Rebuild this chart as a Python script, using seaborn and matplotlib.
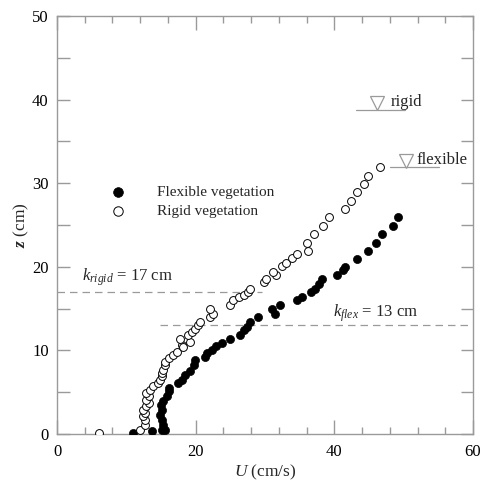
import matplotlib
matplotlib.use("Agg")
import matplotlib.pyplot as plt
import seaborn as sns
import pandas as pd
from matplotlib.ticker import MultipleLocator

# ---- data ----
flex_u = [11.0, 13.7, 15.1, 15.6, 15.3, 15.1, 14.9, 15.1, 15.0, 15.3, 15.8, 16.1, 16.1,
          17.5, 18.0, 18.5, 19.2, 19.7, 19.9, 21.3, 21.6, 22.3, 23.0, 23.8, 25.0, 26.4,
          26.9, 27.4, 27.8, 29.0, 31.4, 31.0, 32.2, 34.6, 35.3, 36.7, 37.2, 37.8, 38.2,
          40.4, 41.2, 41.6, 43.2, 44.8, 46.0, 46.9, 48.5, 49.2]
flex_z = [0.1, 0.3, 0.5, 0.5, 1.1, 1.7, 2.3, 2.9, 3.5, 3.9, 4.5, 5.1, 5.5,
          6.1, 6.5, 7.1, 7.5, 8.3, 8.9, 9.2, 9.7, 10.1, 10.5, 10.9, 11.4, 11.8,
          12.4, 12.8, 13.4, 14.0, 14.4, 15.0, 15.4, 16.0, 16.4, 17.0, 17.4, 18.0, 18.5,
          19.0, 19.6, 20.0, 20.9, 21.9, 22.9, 23.9, 24.9, 25.9]

rigid_u = [6.0, 12.0, 12.7, 12.7, 12.4, 12.7, 12.4, 12.9, 13.2, 12.9, 13.2, 12.9, 13.4,
           13.9, 14.6, 14.9, 15.1, 15.1, 15.3, 15.6, 15.6, 16.1, 16.8, 17.3, 18.0, 18.2,
           19.2, 17.7, 18.9, 19.4, 19.9, 20.4, 20.6, 22.1, 22.5, 22.1, 25.0, 25.4, 26.2,
           26.9, 27.6, 27.8, 29.8, 30.1, 31.6, 31.2, 32.4, 33.1, 33.9, 34.6, 36.2, 36.0,
           37.0, 38.4, 39.2, 41.6, 42.4, 43.3, 44.3, 44.9, 46.6]
rigid_z = [0.1, 0.5, 1.1, 1.7, 2.1, 2.5, 2.9, 3.3, 3.7, 4.1, 4.5, 4.9, 5.3,
           5.7, 6.1, 6.5, 6.9, 7.3, 7.7, 8.3, 8.6, 9.1, 9.4, 9.8, 10.6, 10.4,
           11.0, 11.4, 11.8, 12.2, 12.6, 13.0, 13.4, 14.0, 14.4, 15.0, 15.4, 16.0, 16.4,
           16.6, 17.0, 17.4, 18.2, 18.6, 19.0, 19.4, 20.1, 20.4, 21.0, 21.5, 21.9, 22.9,
           23.9, 24.9, 25.9, 26.9, 27.9, 28.9, 29.9, 30.9, 31.9]

series_labels = ["Flexible vegetation", "Rigid vegetation"]
k_rigid = 17
k_flex = 13
surface_rigid = 38.8
surface_flex = 31.9

x_ticks = [0, 20, 40, 60]
y_ticks = [0, 10, 20, 30, 40, 50]

# ---- style ----
sns.set_style("ticks")
plt.rcParams["font.family"] = ["Liberation Serif", "DejaVu Serif"]
plt.rcParams["mathtext.fontset"] = "custom"
plt.rcParams["mathtext.rm"] = "Liberation Serif"
plt.rcParams["mathtext.it"] = "Liberation Serif:italic"
plt.rcParams["mathtext.bf"] = "Liberation Serif:italic:bold"
grey = "#9a9a9a"

fig = plt.figure(figsize=(4.83, 4.82), dpi=100)
ax = fig.add_axes([57/483, 1-434/482, 416/483, 418/482])

df_f = pd.DataFrame({"U": flex_u, "z": flex_z})
df_r = pd.DataFrame({"U": rigid_u, "z": rigid_z})

sns.scatterplot(data=df_f, x="U", y="z", ax=ax, color="black", edgecolor="black",
                s=34, linewidth=0.5, label=series_labels[0], zorder=3)
sns.scatterplot(data=df_r, x="U", y="z", ax=ax, color="white", edgecolor="black",
                s=32, linewidth=0.7, label=series_labels[1], zorder=3)

ax.set_xlim(0, 60)
ax.set_ylim(0, 50)
ax.set_xticks(x_ticks)
ax.set_yticks(y_ticks)
ax.xaxis.set_minor_locator(MultipleLocator(4))
ax.yaxis.set_minor_locator(MultipleLocator(5))
ax.tick_params(which="both", direction="in", top=True, right=True, color=grey,
               labelsize=12, labelcolor="black", width=1.0)
ax.tick_params(axis="x", which="major", length=10, pad=7)
ax.tick_params(axis="x", which="minor", length=5)
ax.tick_params(axis="y", which="both", length=9, pad=6)
for sp in ax.spines.values():
    sp.set_color(grey)
    sp.set_linewidth(1.0)

ax.set_xlabel("$\\it{U}$ (cm/s)", fontsize=12.5, labelpad=2)
ax.set_ylabel("$\\mathbf{z}$ (cm)", fontsize=12.5, labelpad=1)

# roughness heights
ax.plot([0, 29.5], [k_rigid, k_rigid], ls=(0, (6, 4)), color=grey, lw=0.9, zorder=1)
ax.plot([14.9, 60], [k_flex, k_flex], ls=(0, (6, 4)), color=grey, lw=0.9, zorder=1)
ax.text(3.6, 18.7, "$k_{rigid}$ = 17 cm", fontsize=12, va="center", ha="left")
ax.text(39.8, 14.5, "$k_{flex}$ = 13 cm", fontsize=12, va="center", ha="left")

# water surfaces
ax.plot([43.1, 50.2], [surface_rigid, surface_rigid], color=grey, lw=0.9)
ax.plot([46.2], [surface_rigid + 0.8], marker="v", ms=10, mfc="white", mec=grey, mew=0.9)
ax.text(48.2, surface_rigid + 0.9, "rigid", fontsize=12, va="center", ha="left")
ax.plot([48.0, 55.1], [surface_flex, surface_flex], color=grey, lw=0.9)
ax.plot([50.3], [surface_flex + 0.8], marker="v", ms=10, mfc="white", mec=grey, mew=0.9)
ax.text(51.9, surface_flex + 0.9, "flexible", fontsize=12, va="center", ha="left")

leg = ax.legend(loc="upper left", bbox_to_anchor=(0.11, 0.595), frameon=False,
                fontsize=11, handletextpad=1.55, labelspacing=0.37,
                borderaxespad=0, borderpad=0, markerscale=1.2)

fig.savefig("out.png", dpi=100)
